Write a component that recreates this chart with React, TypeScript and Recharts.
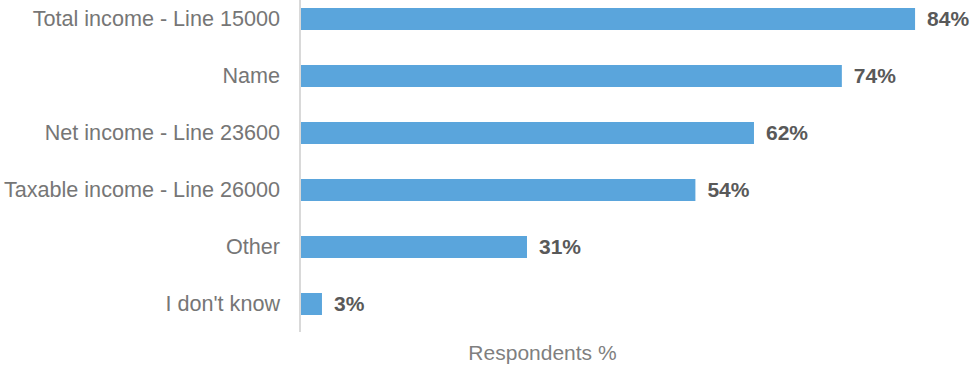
import { BarChart, Bar, XAxis, YAxis, LabelList } from 'recharts';

const categories = [
  'Total income - Line 15000',
  'Name',
  'Net income - Line 23600',
  'Taxable income - Line 26000',
  'Other',
  "I don't know",
];
const respondents = [84, 74, 62, 54, 31, 3];

const data = categories.map((name, i) => ({ name, value: respondents[i] }));

const font = 'Liberation Sans, Arial, sans-serif';

export default function App() {
  return (
    <div style={{ position: 'absolute', left: 0, top: -10 }}>
      <BarChart
        width={972}
        height={376}
        data={data}
        layout="vertical"
        margin={{ top: 0, right: 13, left: 0, bottom: 0 }}
      >
        <XAxis
          type="number"
          domain={[0, 90]}
          axisLine={false}
          tickLine={false}
          tick={false}
          height={34}
          label={{
            value: 'Respondents %',
            position: 'center',
            dx: -87,
            dy: 4,
            fill: '#7f7f7f',
            fontSize: 21,
            fontFamily: font,
          }}
        />
        <YAxis
          type="category"
          dataKey="name"
          width={300}
          tickLine={false}
          tickSize={0}
          tickMargin={20}
          axisLine={{ stroke: '#d9d9d9', strokeWidth: 2 }}
          tick={{ fill: '#767676', fontSize: 21.6, fontFamily: font }}
        />
        <Bar dataKey="value" fill="#5aa5dc" barSize={22} isAnimationActive={false}>
          <LabelList
            dataKey="value"
            position="right"
            offset={12}
            formatter={(v: number) => `${v}%`}
            style={{ fill: '#595959', fontSize: 21, fontWeight: 'bold', fontFamily: font }}
          />
        </Bar>
      </BarChart>
    </div>
  );
}
